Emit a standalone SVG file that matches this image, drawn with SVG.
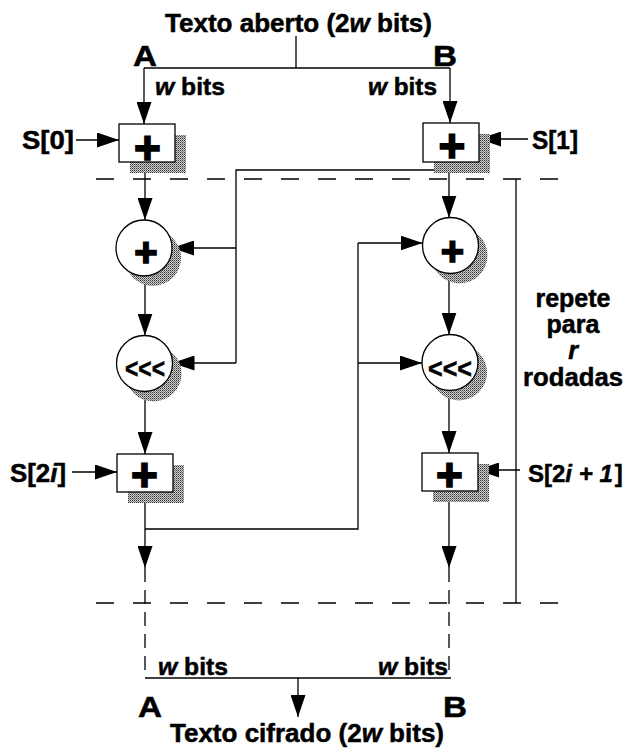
<svg xmlns="http://www.w3.org/2000/svg" width="629" height="750" viewBox="0 0 629 750">
<style>
  .t { font-family: "Liberation Sans", Arial, sans-serif; font-weight: bold; fill: #000; stroke: #000; stroke-width: 0.5; }
  .p { stroke-width: 1.6; }
  .i { font-style: italic; }
  .ln { stroke: #000; stroke-width: 1.3; fill: none; }
  .dash { stroke: #000; stroke-width: 1.3; fill: none; stroke-dasharray: 18 19; }
  .vdash { stroke: #000; stroke-width: 1.3; fill: none; stroke-dasharray: 14 8; }
  .box { fill: #fff; stroke: #000; stroke-width: 1.3; }
  .shadow { fill: url(#stipple); stroke: none; }
</style>
<defs>
  <pattern id="stipple" width="2" height="2" patternUnits="userSpaceOnUse">
    <rect width="2" height="2" fill="#d0d0d0"/>
    <rect width="1" height="1" fill="#333"/>
    <rect x="1" y="1" width="1" height="1" fill="#777"/>
  </pattern>
  <marker id="ah" markerUnits="userSpaceOnUse" markerWidth="22" markerHeight="15" refX="22" refY="7.5" orient="auto">
    <path d="M0,0 L22,7.5 L0,15 z" fill="#000"/>
  </marker>
</defs>

<g id="connectors">
  <line class="ln" x1="296" y1="36" x2="296" y2="68"/>
  <line class="ln" x1="144" y1="68" x2="450" y2="68"/>
  <line class="ln" x1="144" y1="68" x2="144" y2="124" marker-end="url(#ah)"/>
  <line class="ln" x1="450" y1="68" x2="450" y2="123" marker-end="url(#ah)"/>
  <line class="ln" x1="76" y1="140" x2="119" y2="140" marker-end="url(#ah)"/>
  <line class="ln" x1="528" y1="139" x2="479" y2="139" marker-end="url(#ah)"/>
  <line class="ln" x1="72" y1="472" x2="117" y2="472" marker-end="url(#ah)"/>
  <line class="ln" x1="520" y1="470" x2="477" y2="470" marker-end="url(#ah)"/>
  <line class="dash" x1="96" y1="179" x2="560" y2="179"/>
  <line class="dash" x1="96" y1="603" x2="560" y2="603"/>
  <line class="ln" x1="516" y1="179" x2="516" y2="603"/>
  <line class="ln" x1="145" y1="162" x2="145" y2="220" marker-end="url(#ah)"/>
  <line class="ln" x1="145" y1="276" x2="145" y2="335.5" marker-end="url(#ah)"/>
  <line class="ln" x1="145" y1="391" x2="145" y2="454" marker-end="url(#ah)"/>
  <line class="ln" x1="145" y1="492" x2="145" y2="568" marker-end="url(#ah)"/>
  <line class="vdash" x1="145" y1="568" x2="145" y2="678"/>
  <line class="ln" x1="449" y1="162" x2="449" y2="217.5" marker-end="url(#ah)"/>
  <line class="ln" x1="449" y1="273" x2="449" y2="334.5" marker-end="url(#ah)"/>
  <line class="ln" x1="449" y1="390" x2="449" y2="453" marker-end="url(#ah)"/>
  <line class="ln" x1="449" y1="491" x2="449" y2="568" marker-end="url(#ah)"/>
  <line class="vdash" x1="449" y1="568" x2="449" y2="678"/>
  <polyline class="ln" points="145,529 358,529 358,243"/>
  <line class="ln" x1="358" y1="243" x2="422.5" y2="243" marker-end="url(#ah)"/>
  <line class="ln" x1="358" y1="363" x2="422" y2="363" marker-end="url(#ah)"/>
  <polyline class="ln" points="450,170 236,170 236,363"/>
  <line class="ln" x1="236" y1="248" x2="172" y2="248" marker-end="url(#ah)"/>
  <line class="ln" x1="236" y1="363" x2="172.5" y2="363" marker-end="url(#ah)"/>
  <line class="ln" x1="145" y1="678" x2="451" y2="678"/>
  <line class="ln" x1="298" y1="678" x2="298" y2="717" marker-end="url(#ah)"/>
</g>

<g id="add-A0">
  <rect class="shadow" x="130" y="135" width="56" height="38"/>
  <rect class="box" x="119" y="124" width="56" height="38"/>
  <text class="t p" x="147.5" y="164" font-size="46" text-anchor="middle">+</text>
</g>
<g id="add-B0">
  <rect class="shadow" x="434" y="134" width="56" height="39"/>
  <rect class="box" x="423" y="123" width="56" height="39"/>
  <text class="t p" x="452" y="162" font-size="46" text-anchor="middle">+</text>
</g>
<g id="xor-A">
  <circle class="shadow" cx="153" cy="258" r="28"/>
  <circle class="box" cx="144" cy="248" r="28"/>
  <text class="t p" x="146" y="266" font-size="40" text-anchor="middle">+</text>
</g>
<g id="rot-A">
  <circle class="shadow" cx="153.5" cy="373.5" r="28"/>
  <circle class="box" cx="144.5" cy="363.5" r="28"/>
  <text class="t" x="145" y="378" font-size="27" text-anchor="middle" textLength="40" lengthAdjust="spacingAndGlyphs" stroke-width="1">&lt;&lt;&lt;</text>
</g>
<g id="xor-B">
  <circle class="shadow" cx="459.5" cy="255.5" r="28"/>
  <circle class="box" cx="450.5" cy="245.5" r="28"/>
  <text class="t p" x="452.5" y="265" font-size="40" text-anchor="middle">+</text>
</g>
<g id="rot-B">
  <circle class="shadow" cx="459" cy="372.5" r="28"/>
  <circle class="box" cx="450" cy="362.5" r="28"/>
  <text class="t" x="450" y="378" font-size="27" text-anchor="middle" textLength="44" lengthAdjust="spacingAndGlyphs" stroke-width="1">&lt;&lt;&lt;</text>
</g>
<g id="add-A">
  <rect class="shadow" x="128" y="465" width="56" height="38"/>
  <rect class="box" x="117" y="454" width="56" height="38"/>
  <text class="t p" x="144.5" y="491" font-size="46" text-anchor="middle">+</text>
</g>
<g id="add-B">
  <rect class="shadow" x="433" y="464" width="56" height="38"/>
  <rect class="box" x="422" y="453" width="56" height="38"/>
  <text class="t p" x="449.5" y="491" font-size="46" text-anchor="middle">+</text>
</g>

<g id="labels">
  <text class="t" x="165" y="32" font-size="25" textLength="267" lengthAdjust="spacingAndGlyphs">Texto aberto (2<tspan class="i">w</tspan> bits)</text>
  <text class="t" x="133" y="66" font-size="30" textLength="24" lengthAdjust="spacingAndGlyphs">A</text>
  <text class="t" x="433" y="66" font-size="30" textLength="24" lengthAdjust="spacingAndGlyphs">B</text>
  <text class="t" x="155" y="95" font-size="24" textLength="70" lengthAdjust="spacingAndGlyphs"><tspan class="i">w</tspan> bits</text>
  <text class="t" x="368" y="95" font-size="24" textLength="69" lengthAdjust="spacingAndGlyphs"><tspan class="i">w</tspan> bits</text>
  <text class="t" x="22" y="149" font-size="25" textLength="52" lengthAdjust="spacingAndGlyphs">S[0]</text>
  <text class="t" x="532" y="149" font-size="25" textLength="46" lengthAdjust="spacingAndGlyphs">S[1]</text>
  <text class="t" x="10" y="482" font-size="25" textLength="56" lengthAdjust="spacingAndGlyphs">S[2<tspan class="i">i</tspan>]</text>
  <text class="t" x="528" y="482" font-size="24">S[2<tspan class="i">i + 1</tspan><tspan dx="2">]</tspan></text>
  <text class="t" x="573" y="307" font-size="25" text-anchor="middle">repete</text>
  <text class="t" x="573" y="333" font-size="25" text-anchor="middle">para</text>
  <text class="t i" x="573" y="359" font-size="25" text-anchor="middle">r</text>
  <text class="t" x="573" y="386" font-size="25" text-anchor="middle" textLength="100" lengthAdjust="spacingAndGlyphs">rodadas</text>
  <text class="t" x="158" y="675" font-size="24" textLength="70" lengthAdjust="spacingAndGlyphs"><tspan class="i">w</tspan> bits</text>
  <text class="t" x="378" y="675" font-size="24" textLength="70" lengthAdjust="spacingAndGlyphs"><tspan class="i">w</tspan> bits</text>
  <text class="t" x="138" y="717" font-size="30" textLength="24" lengthAdjust="spacingAndGlyphs">A</text>
  <text class="t" x="443" y="717" font-size="30" textLength="24" lengthAdjust="spacingAndGlyphs">B</text>
  <text class="t" x="170" y="742" font-size="25" textLength="274" lengthAdjust="spacingAndGlyphs">Texto cifrado (2<tspan class="i">w</tspan> bits)</text>
</g>
</svg>
